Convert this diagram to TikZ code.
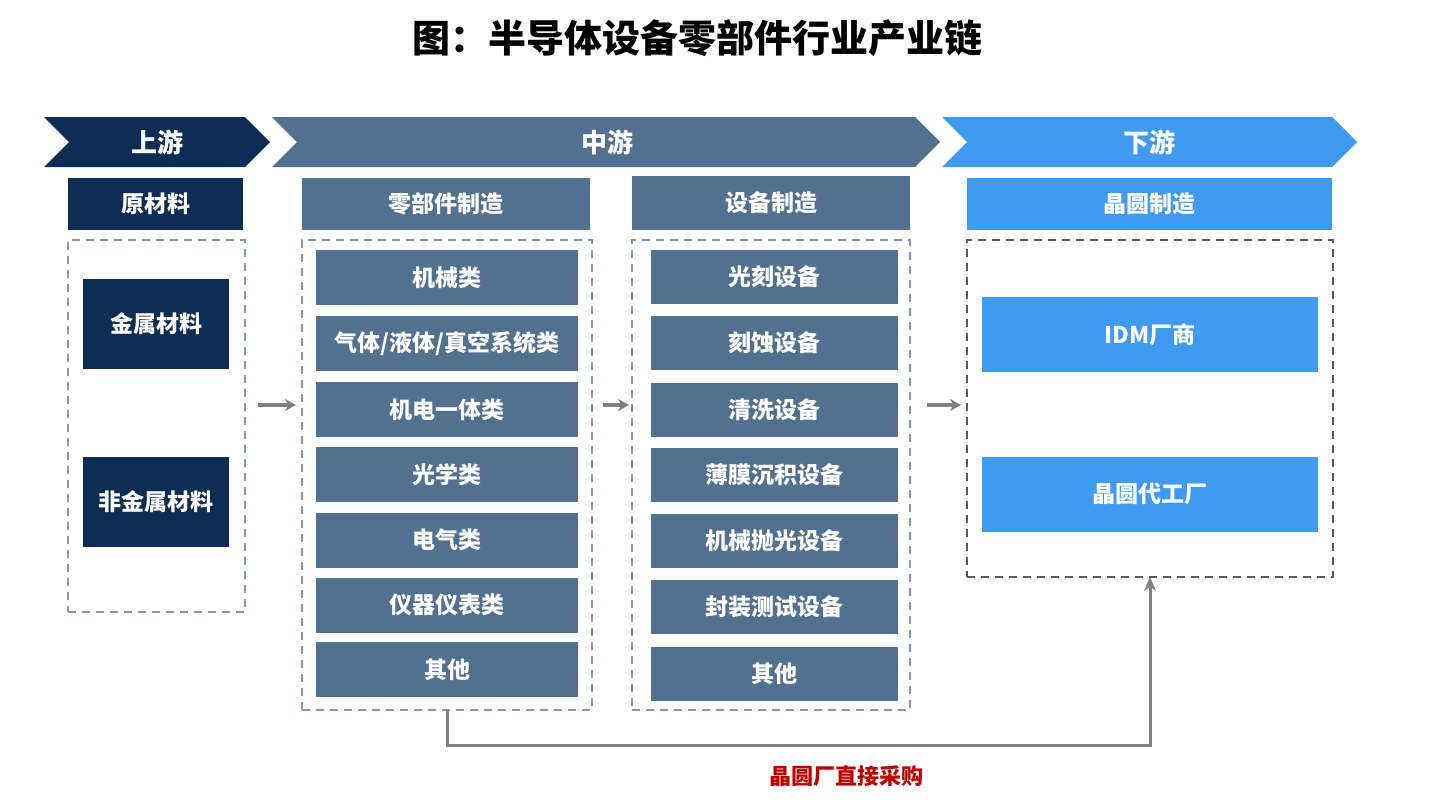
\documentclass[tikz,border=0pt]{standalone}
\usepackage{fontspec}
\setmainfont{Noto Sans CJK SC}
\usetikzlibrary{arrows.meta}
\definecolor{navy}{HTML}{0E2D54}
\definecolor{steel}{HTML}{52708F}
\definecolor{sky}{HTML}{3E9BEF}
\definecolor{dashgray}{HTML}{8497B0}
\definecolor{darkdash}{HTML}{595959}
\definecolor{arrowgray}{HTML}{7F7F7F}
\definecolor{buyred}{HTML}{C00000}

\begin{document}
\begin{tikzpicture}[x=1pt,y=-1pt,
  >={Stealth[length=11pt,width=12pt]},
  box/.style={inner sep=0pt,outer sep=0pt,text=white,font=\fontsize{23}{27}\selectfont\bfseries},
  stage/.style={text=white,font=\fontsize{26}{30}\selectfont\bfseries},
  raw/.style={box,fill=navy,minimum width=146pt,minimum height=90pt},
  part/.style={box,fill=steel,minimum width=262pt,minimum height=55pt},
  tool/.style={box,fill=steel,minimum width=247pt,minimum height=54pt},
  fab/.style={box,fill=sky,minimum width=336pt,minimum height=75pt},
  dashbox/.style={draw=dashgray,line width=2pt,dash pattern=on 8pt off 6pt,inner sep=0pt,outer sep=0pt},
  flow/.style={->,draw=arrowgray,line width=3.5pt,shorten <=13pt,shorten >=6pt}
	]
	\useasboundingbox (0,0) rectangle (1439,801);
	% Title
	\node[font=\fontsize{38}{42}\selectfont\bfseries] (title) at (697,38) {图：半导体设备零部件行业产业链};
	% Stage chevrons
	\fill[navy] (44,117) -- (245,117) -- (270,142) -- (245,167) -- (44,167) -- (69,142) -- cycle;
	\fill[steel] (272,117) -- (915,117) -- (940,142) -- (915,167) -- (272,167) -- (297,142) -- cycle;
	\fill[sky] (942,117) -- (1332,117) -- (1357,142) -- (1332,167) -- (942,167) -- (967,142) -- cycle;
	\node[stage] (up) at (157,142) {上游};
	\node[stage] (mid) at (607,142) {中游};
	\node[stage] (down) at (1149,142) {下游};
	% Column headers
	\node[box,fill=navy,minimum width=175pt,minimum height=52pt] (rawhead) at (155.5,204) {原材料};
	\node[box,fill=steel,minimum width=288pt,minimum height=52pt] (parthead) at (446,204) {零部件制造};
	\node[box,fill=steel,minimum width=278pt,minimum height=54pt] (toolhead) at (771,203) {设备制造};
	\node[box,fill=sky,minimum width=365pt,minimum height=52pt] (fabhead) at (1149.5,204) {晶圆制造};
	% Dashed frames
	\node[dashbox,minimum width=177pt,minimum height=372pt] (rawbox) at (156.5,426) {};
	\node[dashbox,minimum width=290pt,minimum height=470pt] (partsbox) at (447,475) {};
	\node[dashbox,minimum width=278pt,minimum height=470pt] (toolbox) at (771,475) {};
	\node[dashbox,draw=darkdash,minimum width=366pt,minimum height=337pt] (fabbox) at (1150,408.5) {};
	% Raw materials
	\node[raw] (metal) at (156,323.5) {金属材料};
	\node[raw] (nonmetal) at (156,502) {非金属材料};
	% Parts
	\node[part] (mech) at (447,277.5) {机械类};
	\node[part] (gas) at (447,343.5) {气体/液体/真空系统类};
	\node[part] (mechatro) at (447,409.5) {机电一体类};
	\node[part] (optic) at (447,474.5) {光学类};
	\node[part] (elec) at (447,540) {电气类};
	\node[part] (meter) at (447,605) {仪器仪表类};
	\node[part] (partother) at (447,669.5) {其他};
	% Equipment
	\node[tool] (litho) at (774.5,277) {光刻设备};
	\node[tool] (etch) at (774.5,343) {刻蚀设备};
	\node[tool] (clean) at (774.5,410) {清洗设备};
	\node[tool] (film) at (774.5,475) {薄膜沉积设备};
	\node[tool] (cmp) at (774.5,541) {机械抛光设备};
	\node[tool] (test) at (774.5,607) {封装测试设备};
	\node[tool] (toolother) at (774.5,674) {其他};
	% Fabs
	\node[fab] (idm) at (1150,334.5) {IDM厂商};
	\node[fab] (foundry) at (1150,494) {晶圆代工厂};
	% Flow arrows
	\coordinate (flowy) at (0,405);
	\draw[flow] (rawbox.east |- flowy) -- (partsbox.west |- flowy);
	\draw[flow,shorten <=11pt,shorten >=3pt] (partsbox.east |- flowy) -- (toolbox.west |- flowy);
	\draw[flow,shorten <=17pt,shorten >=6pt] (toolbox.east |- flowy) -- (fabbox.west |- flowy);
	% Direct purchase
	\draw[draw=arrowgray,line width=3pt,-{Stealth[length=14pt,width=12pt]}] (partsbox.south) -- ++(0,35) -| (fabbox.south);
	\node[text=buyred,font=\fontsize{22}{26}\selectfont\bfseries] (buy) at (846,776) {晶圆厂直接采购};
\end{tikzpicture}
\end{document}
